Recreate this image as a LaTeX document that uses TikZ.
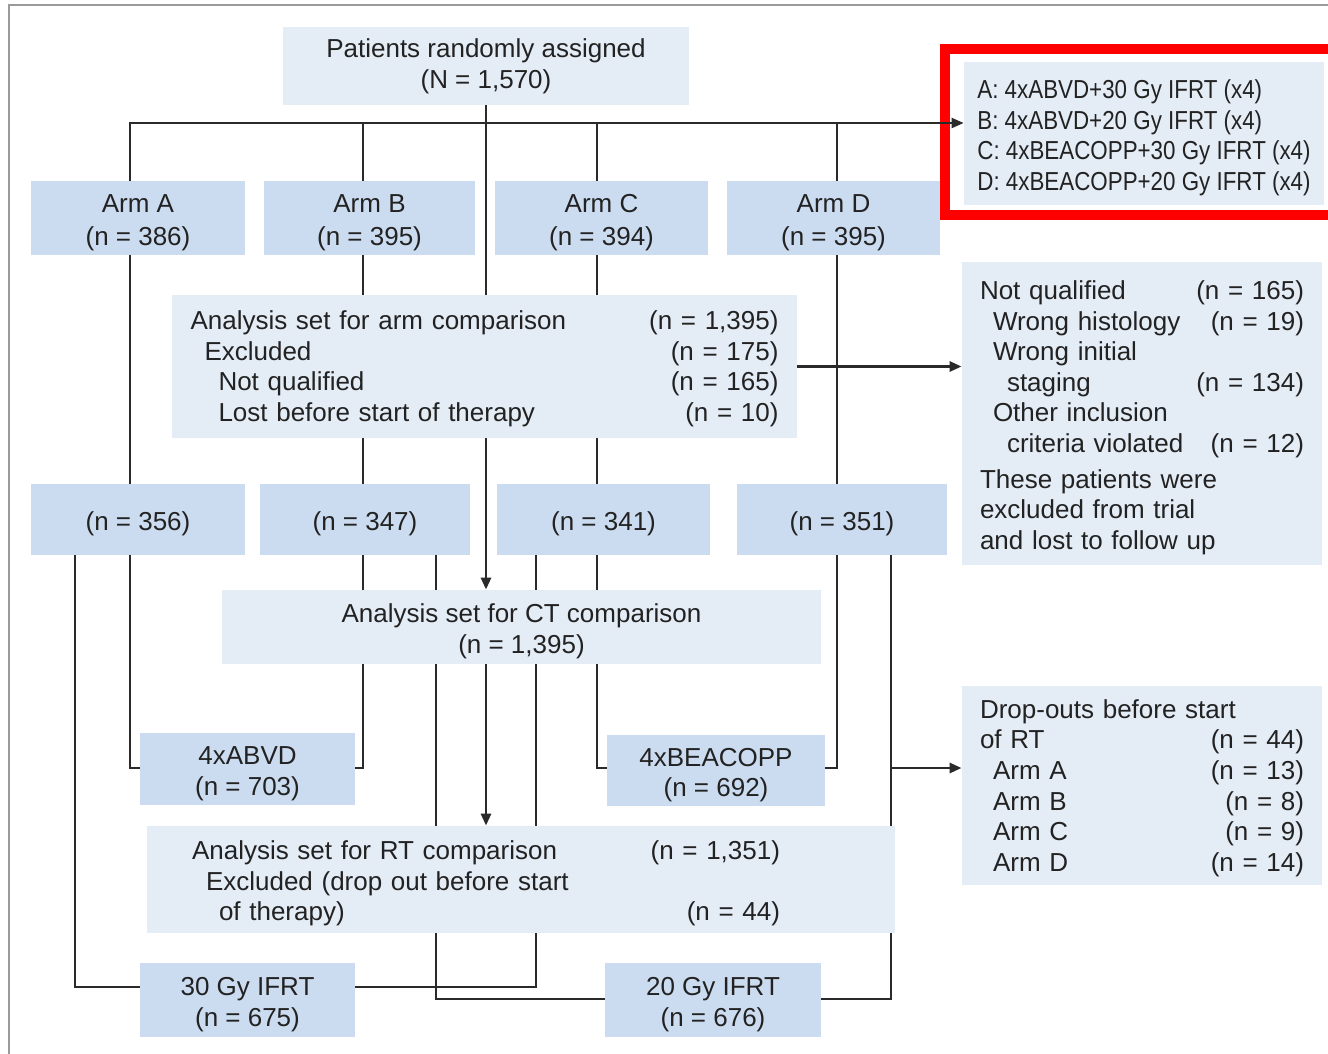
\documentclass[tikz,border=0pt]{standalone}
\usepackage{fontspec}
\setmainfont{Liberation Sans}
\newfontfamily\legendfont[FakeStretch=0.86]{Liberation Sans}
\usetikzlibrary{arrows.meta,backgrounds,calc}
\definecolor{boxlight}{HTML}{E4ECF6}
\definecolor{boxdark}{HTML}{CCDCF0}
\definecolor{ink}{HTML}{222222}
\definecolor{linegray}{HTML}{2A2A2A}
\definecolor{framegray}{HTML}{9A9A9A}
% tall invisible strut on a first line: lowers a centred text block a little
\newcommand\lowstrut{\rule{0pt}{13.5pt}}
\begin{document}
\begin{tikzpicture}[x=0.5pt,y=-0.5pt,
  every node/.style={text=ink, inner sep=0pt, font=\fontsize{13pt}{15.3pt}\selectfont},
  lightbox/.style={fill=boxlight, draw=none},
  darkbox/.style={fill=boxdark, draw=none, align=center},
  armbox/.style={darkbox, font=\fontsize{13pt}{16.5pt}\selectfont},
  conn/.style={draw=linegray, line width=1.1pt},
  trunk/.style={draw=linegray, line width=1.4pt},
  arrowtip/.style={-{Triangle[length=6pt,width=5pt]}},
]
\useasboundingbox (0,0) rectangle (1328,1054);
\clip (0,0) rectangle (1328,1054);

% ---- boxes ----
\node[lightbox, align=center, minimum width=203pt, minimum height=39pt] (top) at (486,66)
  {Patients randomly assigned\\(N = 1,570)};

\node[lightbox, align=left, minimum width=180pt, minimum height=71.5pt,
      font=\legendfont\fontsize{13pt}{15.3pt}\selectfont] (legend) at (1144,133.5)
  {\lowstrut A: 4xABVD+30 Gy IFRT (x4)\\B: 4xABVD+20 Gy IFRT (x4)\\C: 4xBEACOPP+30 Gy IFRT (x4)\\D: 4xBEACOPP+20 Gy IFRT (x4)};

\node[armbox, minimum width=107pt,   minimum height=37pt] (armA) at (138,218)   {\lowstrut Arm A\\(n = 386)};
\node[armbox, minimum width=105.5pt, minimum height=37pt] (armB) at (369.5,218) {\lowstrut Arm B\\(n = 395)};
\node[armbox, minimum width=106.5pt, minimum height=37pt] (armC) at (601.5,218) {\lowstrut Arm C\\(n = 394)};
\node[armbox, minimum width=106.5pt, minimum height=37pt] (armD) at (833.5,218) {\lowstrut Arm D\\(n = 395)};

\node[lightbox, align=left, text width=294pt, minimum width=312.5pt, minimum height=71.5pt] (armcmp) at (484.5,366.5)
  {\rule{0pt}{11.5pt}Analysis set for arm comparison\hfill(n = 1,395)\\
   \hspace*{7pt}Excluded\hfill(n = 175)\\
   \hspace*{14pt}Not qualified\hfill(n = 165)\\
   \hspace*{14pt}Lost before start of therapy\hfill(n = 10)};

\node[lightbox, align=left, text width=162pt, minimum width=180pt, minimum height=151.5pt] (notq) at (1142,413.5)
  {\lowstrut Not qualified\hfill(n = 165)\\
   \hspace*{6.5pt}Wrong histology\hfill(n = 19)\\
   \hspace*{6.5pt}Wrong initial\\
   \hspace*{13.5pt}staging\hfill(n = 134)\\
   \hspace*{6.5pt}Other inclusion\\
   \hspace*{13.5pt}criteria violated\hfill(n = 12)\\[2.5pt]
   These patients were\\
   excluded from trial\\
   and lost to follow up};

\node[darkbox, minimum width=107pt,   minimum height=35.5pt] (rA) at (138,519.5)   {\lowstrut(n = 356)};
\node[darkbox, minimum width=105pt,   minimum height=35.5pt] (rB) at (365,519.5)   {\lowstrut(n = 347)};
\node[darkbox, minimum width=106.5pt, minimum height=35.5pt] (rC) at (603.5,519.5) {\lowstrut(n = 341)};
\node[darkbox, minimum width=105pt,   minimum height=35.5pt] (rD) at (842,519.5)   {\lowstrut(n = 351)};

\node[lightbox, align=center, minimum width=299.5pt, minimum height=37pt] (ct) at (521.5,627)
  {\lowstrut Analysis set for CT comparison\\(n = 1,395)};

\node[darkbox, minimum width=107.5pt, minimum height=36pt]   (abvd) at (247.5,769) {\lowstrut 4xABVD\\(n = 703)};
\node[darkbox, minimum width=109pt,   minimum height=35.5pt] (beac) at (716,770.5) {\lowstrut 4xBEACOPP\\(n = 692)};

\node[lightbox, align=left, text width=162pt, minimum width=180pt, minimum height=99.5pt] (drop) at (1142,785.5)
  {\rule{0pt}{12pt}Drop-outs before start\\
   of RT\hfill(n = 44)\\
   \hspace*{6.5pt}Arm A\hfill(n = 13)\\
   \hspace*{6.5pt}Arm B\hfill(n = 8)\\
   \hspace*{6.5pt}Arm C\hfill(n = 9)\\
   \hspace*{6.5pt}Arm D\hfill(n = 14)};

\node[lightbox, align=left, text width=329pt, minimum width=374pt, minimum height=53.5pt] (rt) at (521,879.5)
  {\lowstrut Analysis set for RT comparison\hfill(n = 1,351)\hspace*{35pt}\null\\
   \hspace*{7pt}Excluded (drop out before start\\
   \hspace*{13.5pt}of therapy)\hfill(n = 44)\hspace*{35pt}\null};

\node[darkbox, minimum width=107.5pt, minimum height=37pt] (g30) at (247.5,1000) {\lowstrut 30 Gy IFRT\\(n = 675)};
\node[darkbox, minimum width=108pt,   minimum height=37pt] (g20) at (713,1000)   {\lowstrut 20 Gy IFRT\\(n = 676)};

% ---- column positions and junction heights ----
\coordinate (xa) at (130,0);  \coordinate (xb) at (363,0);
\coordinate (xc) at (597,0);  \coordinate (xd) at (837,0);
\coordinate (xa2) at (75,0);  \coordinate (xb2) at (436,0);
\coordinate (xc2) at (536,0); \coordinate (xd2) at (891,0);
\coordinate (bus) at (486,123);
\coordinate (jchem) at (0,768);
\coordinate (j30) at (0,987);
\coordinate (j20) at (0,999);

\begin{pgfonlayer}{background}
  \fill[white] (0,0) rectangle (1328,1054);
  % outer frame
  \draw[framegray, line width=1pt] (9,1070) -- (9,5) -- (1340,5);
  % highlight around the arm legend
  \draw[red, line width=5pt]
    ($(legend.north west)+(400,-13)$) -- ($(legend.north west)+(-19,-13)$)
    -- ($(legend.south west)+(-19,10)$) -- ($(legend.south west)+(400,10)$);

  % randomisation trunk
  \draw[trunk, arrowtip] (top.south) -- (top.south |- ct.north);
  \draw[trunk, arrowtip] (top.south |- ct.south) -- (top.south |- rt.north);

  % distribution bus to the arms and legend
  \draw[conn, arrowtip] (xa |- armA.north) |- (bus -| legend.west);
  \draw[conn] (xb |- armB.north) -- (xb |- bus);
  \draw[conn] (xc |- armC.north) -- (xc |- bus);
  \draw[conn] (xd |- armD.north) -- (xd |- bus);

  % arms to analysed counts
  \draw[conn] (xa |- armA.south) -- (xa |- rA.north);
  \draw[conn] (xb |- armB.south) -- (xb |- rB.north);
  \draw[conn] (xc |- armC.south) -- (xc |- rC.north);
  \draw[conn] (xd |- armD.south) -- (xd |- rD.north);

  % exclusions
  \draw[trunk, arrowtip] (armcmp.east) -- (armcmp.east -| notq.west);

  % chemotherapy groups
  \draw[conn] (xa |- rA.south) |- (abvd.west |- jchem);
  \draw[conn] (xb |- rB.south) |- (abvd.east |- jchem);
  \draw[conn] (xc |- rC.south) |- (beac.west |- jchem);
  \draw[conn] (xd |- rD.south) |- (beac.east |- jchem);

  % radiotherapy groups
  \draw[conn] (xa2 |- rA.south) |- (g30.west |- j30);
  \draw[conn] (xc2 |- rC.south) |- (g30.east |- j30);
  \draw[conn] (xb2 |- rB.south) |- (g20.west |- j20);
  \draw[conn] (xd2 |- rD.south) |- (g20.east |- j20);

  % drop-outs
  \draw[trunk, arrowtip] (xd2 |- jchem) -- (drop.west |- jchem);
\end{pgfonlayer}
\end{tikzpicture}
\end{document}
